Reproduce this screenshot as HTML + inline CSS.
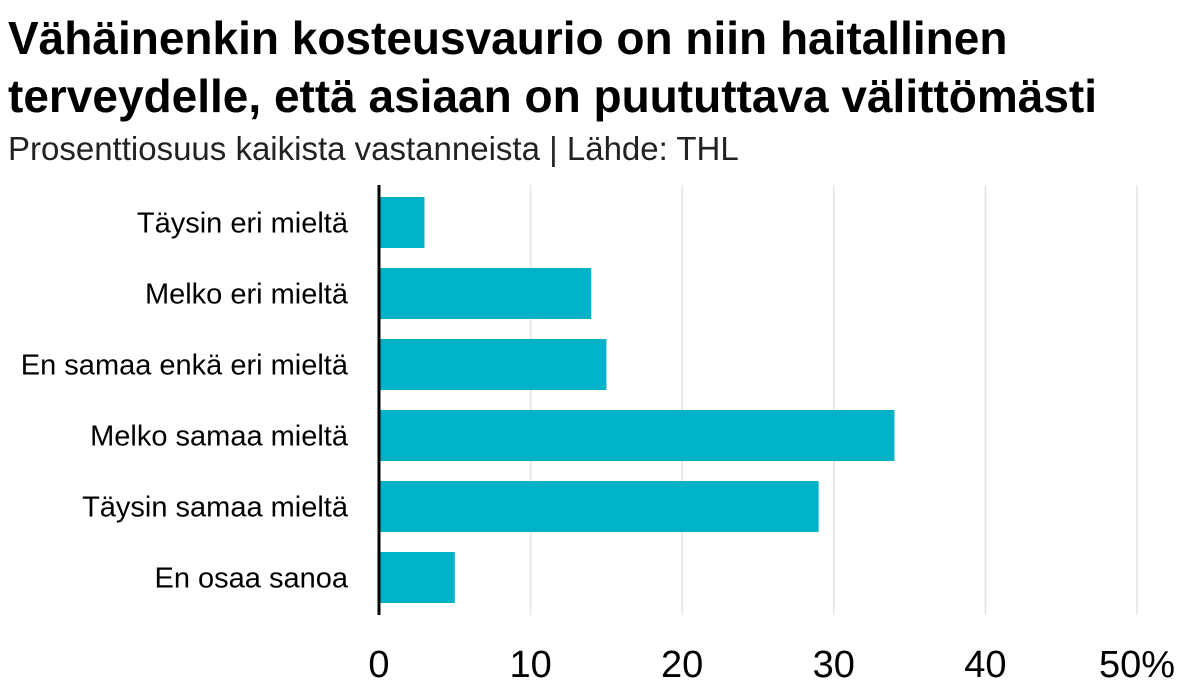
<!DOCTYPE html>
<html><head><meta charset="utf-8">
<style>
body{margin:0;background:#fff;}
svg{display:block;font-family:"Liberation Sans Narrow","Liberation Sans",sans-serif;}
</style></head>
<body>
<svg id="chart" width="1199" height="689" viewBox="0 0 1199 689" xmlns="http://www.w3.org/2000/svg">
<text x="8" y="54" font-size="46" font-weight="bold" fill="#000">Vähäinenkin kosteusvaurio on niin haitallinen</text>
<text x="8" y="112" font-size="46" font-weight="bold" fill="#000">terveydelle, että asiaan on puututtava välittömästi</text>
<text x="8" y="160" font-size="33" fill="#222">Prosenttiosuus kaikista vastanneista | Lähde: THL</text>
<g id="grid"></g>
<g id="bars"></g>
<g id="labels"></g>
<g id="ticks"></g>
<line x1="379" y1="185" x2="379" y2="615" stroke="#000" stroke-width="3"/>
</svg>
<script>
const categories=["Täysin eri mieltä","Melko eri mieltä","En samaa enkä eri mieltä","Melko samaa mieltä","Täysin samaa mieltä","En osaa sanoa"];
const values=[3,14,15,34,29,5];
const tickValues=[0,10,20,30,40,50];
const tickLabels=["0","10","20","30","40","50%"];
const NS="http://www.w3.org/2000/svg";
const x=v=>379+v*15.16;
const bandTop=i=>197+i*71;
const bandH=51;
function mk(tag,attrs,parent){const e=document.createElementNS(NS,tag);for(const k in attrs)e.setAttribute(k,attrs[k]);document.getElementById(parent).appendChild(e);return e;}
tickValues.forEach((t,i)=>{
  if(t>0){const g=mk("line",{x1:x(t),x2:x(t),y1:185,y2:615,stroke:"#e3e3e3","stroke-width":1.5},"grid");
  
  }
  const tl=mk("text",{x:x(t),y:677,"font-size":38,"text-anchor":i===tickValues.length-1?"middle":"middle",fill:"#000"},"ticks");
  tl.textContent=tickLabels[i];
  
  
});
categories.forEach((c,i)=>{
  const r=mk("rect",{x:x(0),y:bandTop(i),width:x(values[i])-x(0),height:bandH,fill:"#00b2c8"},"bars");
  
  
  const l=mk("text",{x:348,y:bandTop(i)+bandH/2+10,"font-size":29,"text-anchor":"end",fill:"#000"},"labels");
  l.textContent=c;
  
  
});
</script>
</body></html>
